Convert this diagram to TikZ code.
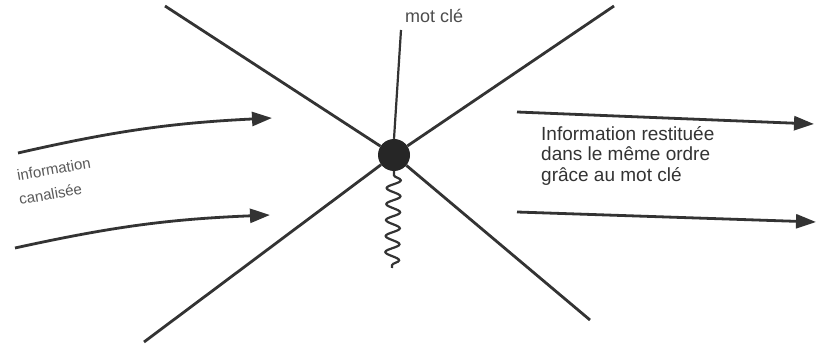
\documentclass[tikz,border=0pt]{standalone}
\usepackage{fontspec}
\setmainfont{Liberation Sans}
\usetikzlibrary{arrows.meta,decorations.pathmorphing}
\begin{document}
\begin{tikzpicture}[x=1pt,y=-1pt,
  ray/.style={line width=2.8pt,draw=black!80},
  flow/.style={line width=2.8pt,draw=black!80,-{Triangle[length=20pt,width=14pt]}},
  lbl/.style={text=black!80,align=left,inner sep=0pt},
  small/.style={lbl,font=\fontsize{15}{19}\selectfont,rotate=10,anchor=base west,text=black!65}]
\useasboundingbox (0,0) rectangle (819,347);
\node[circle,fill=black!85,minimum size=32pt,inner sep=0pt] (c) at (394,155) {};
\coordinate (ul) at (165,6);
\coordinate (ur) at (614,6);
\coordinate (ll) at (144,342);
\coordinate (lr) at (590,320);
\coordinate (top) at (401,30);
\coordinate (wb) at (392,268);
\draw[ray] (ul) -- (c);
\draw[ray] (ur) -- (c);
\draw[ray] (ll) -- (c);
\draw[ray] (lr) -- (c);
\draw[line width=2.2pt,draw=black!80] (top) -- (c.north);
\draw[line width=2.2pt,draw=black!80,decorate,decoration={snake,segment length=16pt,amplitude=7pt,pre length=4pt,post length=2pt}] (c.south) -- (wb);
\node[lbl,anchor=south west,font=\fontsize{18}{20}\selectfont,text=black!70] (mc) at (405,23) {mot clé};
% left arrows
\coordinate (a1s) at (18,153);
\coordinate (a1e) at (272,118);
\coordinate (a2s) at (15,248);
\coordinate (a2e) at (270,215);
\draw[flow] (a1s) to[bend left=5] (a1e);
\draw[flow] (a2s) to[bend left=5] (a2e);
\node[small] (ic1) at (18,181) {information};
\node[small] (ic2) at (20,205) {canalisée};
% right arrows
\coordinate (b1s) at (517,112);
\coordinate (b1e) at (814,124);
\coordinate (b2s) at (517,212);
\coordinate (b2e) at (816,222);
\draw[flow] (b1s) -- (b1e);
\draw[flow] (b2s) -- (b2e);
\node[lbl,anchor=north west,font=\fontsize{19}{20.5}\selectfont] (ir) at (541,126) {Information restituée\\dans le même ordre\\grâce au mot clé};
\end{tikzpicture}
\end{document}
